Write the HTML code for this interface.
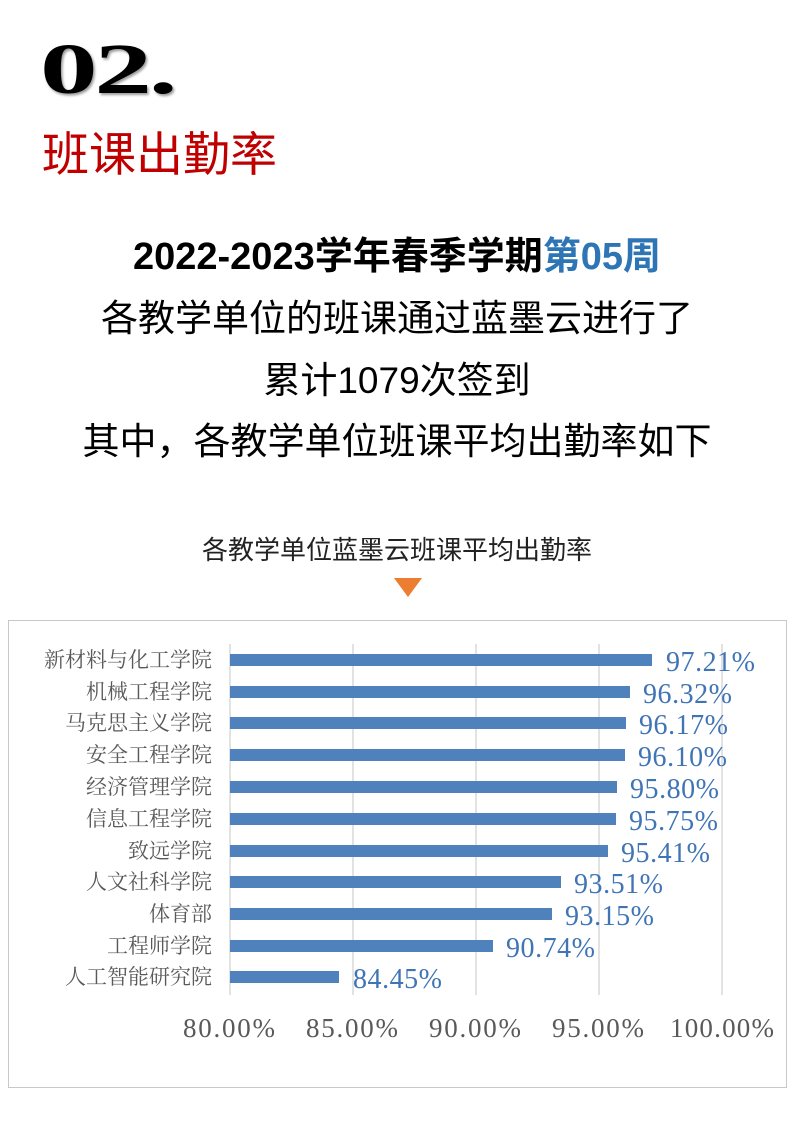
<!DOCTYPE html>
<html><head><meta charset="utf-8"><style>
body{margin:0;width:794px;height:1123px;background:#fff;position:relative;overflow:hidden;font-family:"Liberation Sans","Noto Sans CJK SC",sans-serif}
.a{position:absolute;white-space:nowrap}
.c{left:0;width:794px;text-align:center;color:#000;font-size:37px}
</style></head><body>
<div class="a" style="left:40px;top:28px;font-family:'Liberation Serif','DejaVu Serif',serif;font-weight:900;font-size:72px;letter-spacing:-2px;color:#000;transform:scaleX(1.6);transform-origin:0 0;text-shadow:1px 2px 2px #999">02.</div>
<div class="a" style="left:42px;top:116px;font-size:47px;color:#c00000;">班课出勤率</div>
<div class="a c" style="top:225px;font-weight:bold;font-size:38px">2022-2023学年春季学期<span style="color:#2e75b6">第05周</span></div>
<div class="a c" style="top:288px">各教学单位的班课通过蓝墨云进行了</div>
<div class="a c" style="top:350px">累计1079次签到</div>
<div class="a c" style="top:411px">其中，各教学单位班课平均出勤率如下</div>
<div class="a c" style="top:530px;font-size:26px;color:#222">各教学单位蓝墨云班课平均出勤率</div>
<div class="a" style="left:394px;top:578px;width:0;height:0;border-left:14px solid transparent;border-right:14px solid transparent;border-top:19px solid #ed7d31"></div>
<svg class="a" style="left:0;top:0" width="794" height="1123">
<rect x="8.5" y="620.5" width="778" height="467" fill="none" stroke="#c8c8c8"/>
<g stroke="#d9d9d9" stroke-width="1.5">
<line x1="230" y1="644" x2="230" y2="995"/><line x1="353" y1="644" x2="353" y2="995"/><line x1="476" y1="644" x2="476" y2="995"/><line x1="599" y1="644" x2="599" y2="995"/><line x1="722" y1="644" x2="722" y2="995"/>
</g>
<g font-family="Liberation Serif,serif" font-size="27" fill="#595959" text-anchor="middle">
<text x="229" y="1037" textLength="92">80.00%</text><text x="352" y="1037" textLength="92">85.00%</text><text x="475" y="1037" textLength="92">90.00%</text><text x="598" y="1037" textLength="92">95.00%</text><text x="722" y="1037" textLength="104">100.00%</text>
</g>
<g fill="#4f81bd">
<rect x="230" y="654" width="422" height="12"/>
<rect x="230" y="686" width="400" height="12"/>
<rect x="230" y="717" width="396" height="12"/>
<rect x="230" y="749" width="395" height="12"/>
<rect x="230" y="781" width="387" height="12"/>
<rect x="230" y="813" width="386" height="12"/>
<rect x="230" y="845" width="378" height="12"/>
<rect x="230" y="876" width="331" height="12"/>
<rect x="230" y="908" width="322" height="12"/>
<rect x="230" y="940" width="263" height="12"/>
<rect x="230" y="971" width="109" height="12"/>
</g>
<g font-family="Liberation Serif,'Noto Serif CJK SC',serif" font-size="21" fill="#595959" text-anchor="end">
<text x="212" y="667">新材料与化工学院</text><text x="212" y="699">机械工程学院</text><text x="212" y="730">马克思主义学院</text><text x="212" y="762">安全工程学院</text><text x="212" y="794">经济管理学院</text><text x="212" y="826">信息工程学院</text><text x="212" y="858">致远学院</text><text x="212" y="889">人文社科学院</text><text x="212" y="921">体育部</text><text x="212" y="953">工程师学院</text><text x="212" y="984">人工智能研究院</text>
</g>
<g font-family="Liberation Serif,serif" font-size="28" fill="#3f74b5">
<text x="666" y="671" textLength="89">97.21%</text><text x="643" y="703" textLength="89">96.32%</text><text x="639" y="734" textLength="89">96.17%</text><text x="638" y="766" textLength="89">96.10%</text><text x="630" y="798" textLength="89">95.80%</text><text x="629" y="830" textLength="89">95.75%</text><text x="621" y="862" textLength="89">95.41%</text><text x="574" y="893" textLength="89">93.51%</text><text x="565" y="925" textLength="89">93.15%</text><text x="506" y="957" textLength="89">90.74%</text><text x="353" y="988" textLength="89">84.45%</text>
</g>
</svg>
</body></html>
